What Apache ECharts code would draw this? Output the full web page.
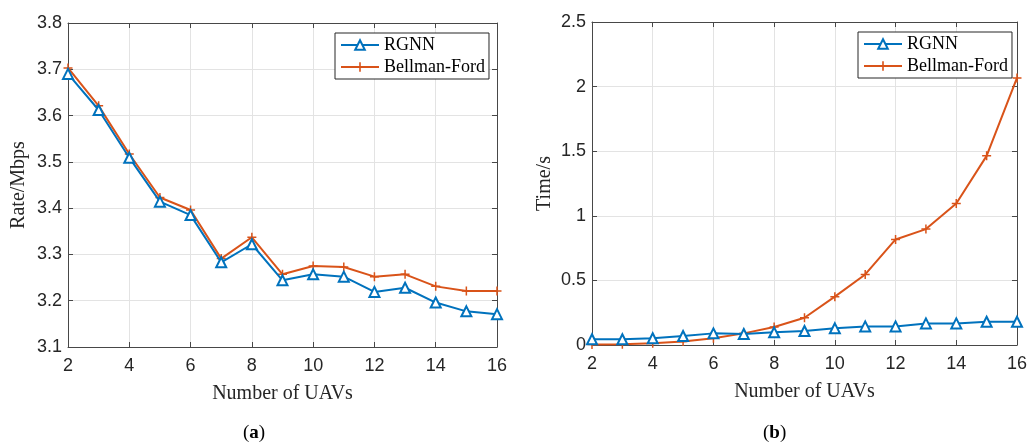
<!DOCTYPE html>
<html>
<head>
<meta charset="utf-8">
<script src="https://cdn.jsdelivr.net/npm/echarts@6/dist/echarts.min.js"></script>
<style>
html,body{margin:0;padding:0;background:#fff;}
#c{width:1030px;height:444px;}
</style>
</head>
<body>
<div id="c"></div>
<script>
// ---- data ----
const uavs = [2,3,4,5,6,7,8,9,10,11,12,13,14,15,16];
const rateRGNN = [3.690,3.612,3.509,3.414,3.385,3.283,3.322,3.244,3.257,3.252,3.219,3.228,3.196,3.177,3.171];
const rateBF   = [3.703,3.621,3.517,3.423,3.396,3.291,3.337,3.257,3.275,3.273,3.252,3.257,3.231,3.221,3.221];
const timeRGNN = [0.044,0.044,0.052,0.070,0.090,0.085,0.098,0.108,0.129,0.144,0.144,0.167,0.167,0.180,0.180];
const timeBF   = [0.003,0.005,0.013,0.028,0.052,0.090,0.139,0.211,0.374,0.546,0.817,0.897,1.095,1.464,2.067];
const seriesNames = ['RGNN','Bellman-Ford'];
const xTitle = 'Number of UAVs';
const yTitles = ['Rate/Mbps','Time/s'];
const captions = ['a','b'];

const BLUE = '#0072BD', ORANGE = '#D95319';
const AX = '#474747', GRIDC = '#e3e3e3', LBL = '#262626';
const SANS = '"Liberation Sans", Arial, Helvetica, sans-serif';
const SERIF = '"Liberation Serif", "Times New Roman", serif';
const PLUS = 'path://M5,0H7V5H12V7H7V12H5V7H0V5H5Z';

function pairs(ys){ return uavs.map((x,i)=>[x, ys[i]]); }

const grids = [
  {left:68, top:23, width:429, height:324},
  {left:592, top:22, width:427, height:323}
];
const yRanges = [{min:3.1,max:3.8,interval:0.1},{min:0,max:2.5,interval:0.5}];

const xAxes = [], yAxes = [];
[0,1].forEach(g=>{
  xAxes.push({
    type:'value', gridIndex:g, min:2, max:16, interval:2, position:'bottom',
    name: xTitle, nameLocation:'middle', nameGap:37,
    nameTextStyle:{fontFamily:SERIF, fontSize:20, color:LBL},
    axisLine:{show:true,onZero:false,lineStyle:{color:AX,width:1}},
    axisTick:{show:true,inside:true,length:5,lineStyle:{color:AX}},
    axisLabel:{fontFamily:SANS,fontSize:18,color:LBL,margin:10},
    splitLine:{show:true,lineStyle:{color:GRIDC,width:1}}
  });
  yAxes.push(Object.assign({
    type:'value', gridIndex:g, position:'left',
    name: yTitles[g], nameLocation:'middle', nameGap: g===0?39:37, nameRotate:90,
    nameTextStyle:{fontFamily:SERIF, fontSize:20, color:LBL},
    axisLine:{show:true,onZero:false,lineStyle:{color:AX,width:1}},
    axisTick:{show:true,inside:true,length:5,lineStyle:{color:AX}},
    axisLabel:{fontFamily:SANS,fontSize:18,color:LBL,margin:6},
    splitLine:{show:true,lineStyle:{color:GRIDC,width:1}}
  }, yRanges[g]));
});
[0,1].forEach(g=>{
  xAxes.push({
    type:'value', gridIndex:g, min:2, max:16, interval:2, position:'top',
    axisLine:{show:true,onZero:false,lineStyle:{color:AX,width:1}},
    axisTick:{show:true,inside:true,length:5,lineStyle:{color:AX}},
    axisLabel:{show:false}, splitLine:{show:false}
  });
  yAxes.push(Object.assign({
    type:'value', gridIndex:g, position:'right',
    axisLine:{show:true,onZero:false,lineStyle:{color:AX,width:1}},
    axisTick:{show:true,inside:true,length:5,lineStyle:{color:AX}},
    axisLabel:{show:false}, splitLine:{show:false}
  }, yRanges[g]));
});

function mk(name, data, g, isTri){
  return {
    type:'line', name:name, xAxisIndex:g, yAxisIndex:g, data:pairs(data),
    symbol: isTri ? 'emptyTriangle' : PLUS,
    symbolSize: isTri ? 10 : 9,
    color: isTri ? BLUE : ORANGE,
    lineStyle:{width:2, color: isTri ? BLUE : ORANGE},
    itemStyle: isTri ? {color:BLUE, borderColor:BLUE, borderWidth:1.6} : {color:ORANGE, borderWidth:0},
    animation:false, z: isTri ? 3 : 2
  };
}
const series = [
  mk(seriesNames[0], rateRGNN, 0, true),
  mk(seriesNames[1], rateBF, 0, false),
  mk(seriesNames[0], timeRGNN, 1, true),
  mk(seriesNames[1], timeBF, 1, false)
];

function legend(left, top){
  return {
    data: seriesNames, orient:'vertical', left:left, top:top,
    itemWidth:38, itemHeight:12, itemGap:4,
    padding:[3,4,3,5],
    backgroundColor:'#fff', borderColor:'#262626', borderWidth:1,
    textStyle:{fontFamily:SERIF, fontSize:18, color:'#000', lineHeight:18},
    selectedMode:false
  };
}

const chart = echarts.init(document.getElementById('c'), null, {renderer:'canvas'});
chart.setOption({
  animation:false,
  backgroundColor:'#fff',
  grid: grids,
  xAxis: xAxes,
  yAxis: yAxes,
  legend: [legend(335,33), legend(858,32)],
  series: series,
  graphic: [
    {type:'text', left:243, top:424, style:{rich:{p:{fontFamily:SERIF,fontSize:19,fill:'#000'},b:{fontFamily:SERIF,fontSize:19,fontWeight:'bold',fill:'#000'}}, text:'{p|(}{b|'+captions[0]+'}{p|)}'}},
    {type:'text', left:763, top:424, style:{rich:{p:{fontFamily:SERIF,fontSize:19,fill:'#000'},b:{fontFamily:SERIF,fontSize:19,fontWeight:'bold',fill:'#000'}}, text:'{p|(}{b|'+captions[1]+'}{p|)}'}}
  ]
});
</script>
</body>
</html>
